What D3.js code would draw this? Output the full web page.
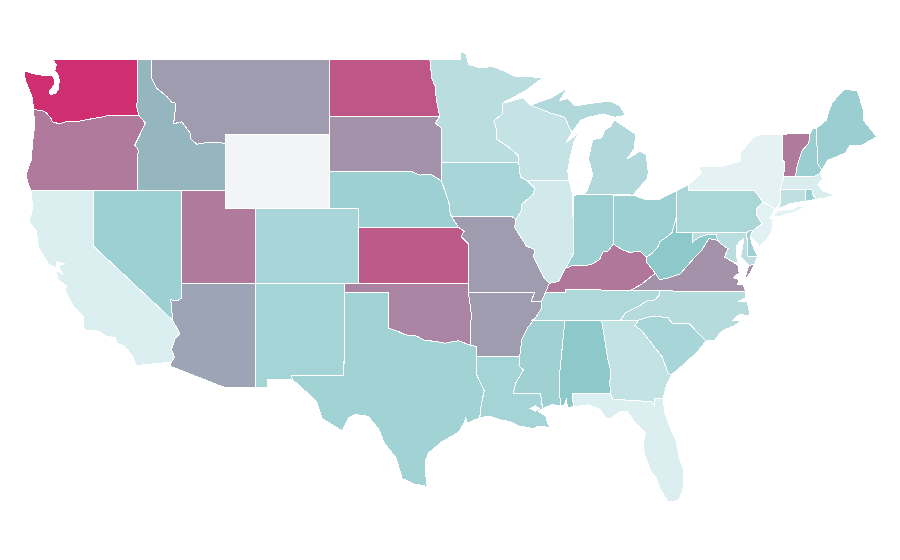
<!DOCTYPE html>
<html>
<head>
<meta charset="utf-8">
<title>States</title>
<script src="https://cdn.jsdelivr.net/npm/d3@7"></script>
<style>
  html, body { margin: 0; background: #fff; }
  .state { stroke: #fff; stroke-width: 1; fill-rule: evenodd; shape-rendering: crispEdges; }
</style>
</head>
<body>
<div class="chart"></div>
<script>
const stateNames = ["Washington","Oregon","California","Nevada","Idaho","Montana","Wyoming","Utah","Arizona","Colorado","New Mexico","North Dakota","South Dakota","Nebraska","Kansas","Oklahoma","Texas","Minnesota","Iowa","Missouri","Arkansas","Louisiana","Wisconsin","Illinois","Michigan","Indiana","Ohio","Kentucky","Tennessee","Mississippi","Alabama","Georgia","Florida","South Carolina","North Carolina","Virginia","West Virginia","Maryland","Delaware","Pennsylvania","New Jersey","New York","Connecticut","Rhode Island","Massachusetts","Vermont","New Hampshire","Maine"];
const stateValues = [99,70,5,33,47,57,null,70,54,28,29,84,61,33,82,66,31,20,28,57,57,29,15,9,24,33.5,33,71,25,32,40,16,5,28,22,61,40,20,32,27,2,1,18,33,6,70,34,34];

const colorStops = [0, 40, 100];
const colorRange = ["#e6f3f5", "#8dc8ca", "#d02c6e"];
const noDataColor = "#f3f4f6";

// state outlines as [lon, lat] rings
const stateOutlines = {
  "Washington": [[[-117.03,49],[-122.76,49],[-122.5,48.7],[-122.6,48.4],[-122.4,48.2],[-122.3,47.9],[-122.35,47.4],[-122.55,47.2],[-122.9,47.1],[-123,47.3],[-122.65,47.6],[-122.6,47.9],[-122.75,48.1],[-123.1,48.15],[-123.7,48.17],[-124.7,48.38],[-124.6,47.9],[-124.3,47.3],[-124.1,46.9],[-124.05,46.3],[-123.5,46.27],[-123.2,46.15],[-122.9,45.9],[-122.75,45.65],[-122.3,45.55],[-121.7,45.7],[-121.2,45.65],[-120.6,45.74],[-119.9,45.85],[-119.3,45.93],[-118.98,46],[-116.92,46],[-117.04,46.4]]],
  "Oregon": [[[-124.05,46.3],[-123.5,46.27],[-123.2,46.15],[-122.9,45.9],[-122.75,45.65],[-122.3,45.55],[-121.7,45.7],[-121.2,45.65],[-120.6,45.74],[-119.9,45.85],[-119.3,45.93],[-118.98,46],[-116.92,46],[-116.48,45.6],[-116.85,44.95],[-117.2,44.4],[-117.03,44.25],[-116.93,44.1],[-117.03,43.83],[-117.03,42],[-124.2,42],[-124.4,42.3],[-124.55,42.85],[-124.2,43.6],[-124.1,44.6],[-123.95,45.5]]],
  "California": [[[-124.2,42],[-120,42],[-120,39],[-114.63,35],[-114.15,34.27],[-114.45,34],[-114.72,33.4],[-114.5,33],[-114.72,32.72],[-117.12,32.53],[-117.3,33],[-117.9,33.6],[-118.4,33.75],[-118.5,34.03],[-119.2,34.15],[-119.6,34.4],[-120.47,34.45],[-120.65,34.6],[-120.65,35.15],[-121.3,35.7],[-121.9,36.6],[-121.8,36.85],[-122.4,37.2],[-122.5,37.7],[-122.1,37.5],[-122.35,37.95],[-121.9,38.05],[-122.5,38.15],[-122.5,37.85],[-123,38],[-123.7,38.9],[-123.85,39.8],[-124.35,40.3],[-124.1,41]]],
  "Nevada": [[[-120,42],[-114.04,42],[-114.04,36.2],[-114.3,36.05],[-114.75,36.1],[-114.63,35],[-120,39]]],
  "Idaho": [[[-117.03,49],[-116.05,49],[-116.05,48],[-115.7,47.45],[-115,47],[-114.7,46.7],[-114.4,46.65],[-114.56,45.56],[-114,45.65],[-113.45,45.05],[-113.4,44.75],[-113,44.45],[-112.3,44.55],[-111.5,44.55],[-111.05,44.48],[-111.05,42],[-117.03,42],[-117.03,43.83],[-116.93,44.1],[-117.03,44.25],[-117.2,44.4],[-116.85,44.95],[-116.48,45.6],[-116.92,46],[-117.04,46.4]]],
  "Montana": [[[-116.05,49],[-104.05,49],[-104.05,45],[-111.05,45],[-111.05,44.48],[-111.5,44.55],[-112.3,44.55],[-113,44.45],[-113.4,44.75],[-113.45,45.05],[-114,45.65],[-114.56,45.56],[-114.4,46.65],[-114.7,46.7],[-115,47],[-115.7,47.45],[-116.05,48]]],
  "Wyoming": [[[-111.05,45],[-104.05,45],[-104.05,41],[-111.05,41]]],
  "Utah": [[[-114.04,42],[-111.05,42],[-111.05,41],[-109.05,41],[-109.05,37],[-114.04,37]]],
  "Arizona": [[[-114.04,37],[-109.05,37],[-109.05,31.33],[-111.07,31.33],[-114.8,32.5],[-114.72,32.72],[-114.5,33],[-114.72,33.4],[-114.45,34],[-114.15,34.27],[-114.63,35],[-114.75,36.1],[-114.3,36.05],[-114.04,36.2]]],
  "Colorado": [[[-109.05,41],[-102.05,41],[-102.04,37],[-109.05,37]]],
  "New Mexico": [[[-109.05,37],[-103,37],[-103.04,32],[-106.62,32],[-106.53,31.78],[-108.2,31.78],[-108.2,31.33],[-109.05,31.33]]],
  "North Dakota": [[[-104.05,49],[-97.23,49],[-97.1,48],[-96.85,47.5],[-96.8,46.9],[-96.56,45.94],[-104.05,45.94]]],
  "South Dakota": [[[-104.05,45.94],[-96.56,45.94],[-96.85,45.6],[-96.45,45.3],[-96.45,43.5],[-96.45,42.5],[-97.2,42.85],[-97.9,42.8],[-98.5,43],[-104.05,43]]],
  "Nebraska": [[[-104.05,43],[-98.5,43],[-97.9,42.8],[-97.2,42.85],[-96.45,42.5],[-96.1,41.7],[-95.9,41.2],[-95.85,40.7],[-95.3,40],[-102.05,40],[-102.05,41],[-104.05,41]]],
  "Kansas": [[[-102.05,40],[-95.3,40],[-94.9,39.8],[-95.1,39.5],[-94.6,39.1],[-94.62,37],[-102.04,37]]],
  "Oklahoma": [[[-103,37],[-94.62,37],[-94.62,36.5],[-94.43,35.4],[-94.48,33.64],[-95.3,33.88],[-96.2,33.75],[-96.9,33.85],[-97.6,33.9],[-98.1,34.13],[-98.9,34.2],[-99.4,34.4],[-100,34.56],[-100,36.5],[-103,36.5]]],
  "Texas": [[[-103,36.5],[-100,36.5],[-100,34.56],[-99.4,34.4],[-98.9,34.2],[-98.1,34.13],[-97.6,33.9],[-96.9,33.85],[-96.2,33.75],[-95.3,33.88],[-94.48,33.64],[-94.04,33.55],[-94.04,32],[-93.8,31.6],[-93.55,31.15],[-93.75,30.4],[-93.85,29.7],[-94.7,29.4],[-94.8,29.7],[-94.95,29.35],[-95.3,28.9],[-96.4,28.4],[-97.3,27.8],[-97.55,27.3],[-97.5,26.6],[-97.4,25.9],[-97.55,26],[-98.3,26.1],[-99.1,26.4],[-99.5,27.5],[-100.3,28.3],[-100.7,29.1],[-101.4,29.77],[-102.3,29.88],[-102.7,29.7],[-103.15,28.98],[-104.5,29.65],[-104.9,30.6],[-106.53,31.78],[-106.62,32],[-103.04,32]]],
  "Minnesota": [[[-97.23,49],[-95.15,49],[-95.15,49.38],[-94.8,49.33],[-94.6,48.72],[-93.8,48.55],[-92.95,48.62],[-92,48.3],[-91.4,48.07],[-90.75,48.1],[-89.6,48],[-90.8,47.3],[-92.1,46.75],[-92.29,46.66],[-92.29,46.1],[-92.9,45.7],[-92.75,45.3],[-92.75,44.75],[-91.9,44.3],[-91.25,43.85],[-91.22,43.5],[-96.45,43.5],[-96.45,45.3],[-96.85,45.6],[-96.56,45.94],[-96.8,46.9],[-96.85,47.5],[-97.1,48]]],
  "Iowa": [[[-96.45,43.5],[-91.22,43.5],[-91.15,43],[-91.1,42.7],[-90.64,42.51],[-90.15,42.1],[-90.2,41.8],[-91.05,41.2],[-91,40.95],[-91.4,40.4],[-91.7,40.6],[-95.75,40.58],[-95.85,40.7],[-95.9,41.2],[-96.1,41.7],[-96.45,42.5]]],
  "Missouri": [[[-95.75,40.58],[-91.7,40.6],[-91.4,40.4],[-91.5,40],[-90.7,39],[-90.15,38.8],[-90.2,38.4],[-89.5,37.3],[-89.15,37],[-89.4,36.5],[-89.7,36],[-90.37,36],[-90.15,36.5],[-94.62,36.5],[-94.62,37],[-94.6,39.1],[-95.1,39.5],[-94.9,39.8],[-95.3,40]]],
  "Arkansas": [[[-94.62,36.5],[-90.15,36.5],[-90.37,36],[-89.7,36],[-89.7,35.6],[-90.1,35.1],[-90.6,34.6],[-91,33.95],[-91.15,33],[-94.04,33.02],[-94.04,33.55],[-94.48,33.64],[-94.43,35.4]]],
  "Louisiana": [[[-94.04,33.02],[-91.15,33],[-91.2,32.5],[-90.9,32.3],[-91.4,31.6],[-91.6,31],[-89.73,31],[-89.6,30.18],[-89.9,30.05],[-89.4,29.8],[-89.2,29.3],[-89,29.15],[-89.9,29.25],[-90.2,29.1],[-91.2,29.25],[-91.8,29.5],[-92.3,29.55],[-93.2,29.78],[-93.85,29.7],[-93.75,30.4],[-93.55,31.15],[-93.8,31.6],[-94.04,32]],[[-90.45,30.2],[-90.1,30.35],[-89.8,30.2],[-90.1,30.05]]],
  "Wisconsin": [[[-92.29,46.66],[-92,46.7],[-90.9,46.95],[-90.4,46.55],[-89.1,46.13],[-88.1,45.9],[-87.8,45.35],[-87.6,45.1],[-88,44.55],[-87.4,44.9],[-87.05,45.28],[-87.5,44.5],[-87.75,43.7],[-87.9,43],[-87.8,42.49],[-90.64,42.51],[-91.1,42.7],[-91.15,43],[-91.22,43.5],[-91.25,43.85],[-91.9,44.3],[-92.75,44.75],[-92.75,45.3],[-92.9,45.7],[-92.29,46.1]]],
  "Illinois": [[[-90.64,42.51],[-87.8,42.49],[-87.55,41.7],[-87.53,39.35],[-87.5,38.6],[-88.05,37.8],[-88.5,37.1],[-89.15,37],[-89.5,37.3],[-90.2,38.4],[-90.15,38.8],[-90.7,39],[-91.5,40],[-91.4,40.4],[-91,40.95],[-91.05,41.2],[-90.2,41.8],[-90.15,42.1]]],
  "Michigan": [[[-86.82,41.76],[-83.45,41.73],[-83.15,42.05],[-82.5,42.6],[-82.45,43],[-82.6,43.9],[-83,44.07],[-83.9,43.65],[-83.4,44.2],[-83.3,45],[-84.75,45.75],[-85,45.4],[-85.4,45.2],[-85.6,44.8],[-86.2,44.7],[-86.5,43.7],[-86.2,42.8],[-86.6,41.95]],[[-90.4,46.55],[-89.1,46.13],[-88.1,45.9],[-87.8,45.35],[-87.6,45.1],[-87,45.75],[-86.5,45.9],[-85.5,46.08],[-84.75,45.9],[-84,46],[-84.35,46.5],[-85,46.77],[-86.1,46.67],[-87.4,46.5],[-87.9,46.9],[-88.45,46.8],[-87.9,47.47],[-89,46.95]]],
  "Indiana": [[[-87.53,41.7],[-87.2,41.76],[-84.8,41.76],[-84.82,39.1],[-85.2,38.7],[-85.5,38.7],[-85.75,38.27],[-86.3,38],[-86.8,37.95],[-87.6,37.95],[-88.05,37.8],[-87.5,38.6],[-87.53,39.35]]],
  "Ohio": [[[-84.82,39.1],[-84.8,41.7],[-83.45,41.73],[-82.7,41.5],[-81.7,41.5],[-80.52,41.98],[-80.52,40.64],[-80.85,39.7],[-81.7,39.2],[-81.75,39],[-82.2,38.6],[-82.6,38.4],[-83,38.73],[-83.7,38.65],[-84.2,38.8]]],
  "Kentucky": [[[-89.4,36.5],[-88.07,36.5],[-88.07,36.68],[-83.68,36.6],[-82.9,36.95],[-81.97,37.54],[-82.6,38.17],[-82.6,38.4],[-83,38.73],[-83.7,38.65],[-84.2,38.8],[-84.82,39.1],[-85.2,38.7],[-85.5,38.7],[-85.75,38.27],[-86.3,38],[-86.8,37.95],[-87.6,37.95],[-88.05,37.8],[-88.5,37.1],[-89.15,37]]],
  "Tennessee": [[[-90.3,35],[-88.2,35],[-85.6,34.98],[-84.32,35],[-84,35.4],[-83.1,35.75],[-82.6,36.03],[-82,36.1],[-81.7,36.35],[-81.68,36.59],[-83.68,36.6],[-88.07,36.68],[-88.07,36.5],[-89.4,36.5],[-89.7,36],[-89.7,35.6],[-90.1,35.1]]],
  "Mississippi": [[[-90.3,35],[-88.2,35],[-88.1,34.9],[-88.47,31.9],[-88.4,30.37],[-89,30.4],[-89.6,30.18],[-89.73,31],[-91.6,31],[-91.4,31.6],[-90.9,32.3],[-91.2,32.5],[-91.15,33],[-91,33.95],[-90.6,34.6],[-90.1,35.1]]],
  "Alabama": [[[-88.2,35],[-85.6,34.98],[-85.18,32.87],[-85,32.3],[-85.05,31.55],[-85,31],[-87.6,31],[-87.5,30.3],[-87.9,30.25],[-88,30.7],[-88.15,30.35],[-88.4,30.37],[-88.47,31.9],[-88.1,34.9]]],
  "Georgia": [[[-85.6,34.98],[-83.1,35],[-83.35,34.7],[-82.9,34.45],[-82,33.5],[-81.5,33],[-81.1,32.1],[-80.85,32.05],[-81.2,31.5],[-81.45,30.72],[-82.05,30.75],[-82.05,30.37],[-82.2,30.57],[-84.85,30.7],[-85,31],[-85.05,31.55],[-85,32.3],[-85.18,32.87]]],
  "Florida": [[[-87.6,31],[-85,31],[-84.85,30.7],[-82.2,30.57],[-82.05,30.37],[-82.05,30.75],[-81.45,30.72],[-81.3,29.9],[-80.9,29],[-80.55,28.45],[-80.35,27.5],[-80.05,26.9],[-80.1,25.8],[-80.4,25.2],[-81.1,25.12],[-81.7,25.9],[-81.9,26.45],[-82.25,26.75],[-82.7,27.7],[-82.8,28.2],[-82.65,28.9],[-83.4,29.5],[-83.9,30.05],[-84.3,30.05],[-85,29.65],[-85.35,29.7],[-85.7,30.15],[-86.5,30.4],[-87.5,30.3]]],
  "South Carolina": [[[-83.1,35],[-82.3,35.2],[-81.05,35.15],[-81.05,35.05],[-80.8,34.82],[-79.67,34.8],[-78.55,33.86],[-79.1,33.3],[-79.9,32.7],[-80.85,32.05],[-81.1,32.1],[-81.5,33],[-82,33.5],[-82.9,34.45],[-83.35,34.7]]],
  "North Carolina": [[[-84.32,35],[-83.1,35],[-82.3,35.2],[-81.05,35.15],[-81.05,35.05],[-80.8,34.82],[-79.67,34.8],[-78.55,33.86],[-77.95,33.9],[-77.5,34.4],[-76.6,34.7],[-76.1,35],[-76.7,35],[-76.3,35.3],[-75.55,35.25],[-75.75,36],[-76.4,36],[-75.87,36.2],[-75.87,36.55],[-81.68,36.59],[-81.7,36.35],[-82,36.1],[-82.6,36.03],[-83.1,35.75],[-84,35.4]]],
  "Virginia": [[[-83.68,36.6],[-75.87,36.55],[-76,36.9],[-76.4,36.95],[-76.3,37.2],[-76.7,37.3],[-76.3,37.55],[-76.35,37.95],[-76.95,38.25],[-77.3,38.4],[-77.05,38.85],[-77.5,39.1],[-77.75,39.3],[-78.35,39.4],[-78.85,38.75],[-79.3,38.4],[-80.3,37.5],[-81.25,37.25],[-81.68,37.2],[-81.97,37.54],[-82.9,36.95]],[[-75.95,37.15],[-75.65,37.95],[-75.25,38.03],[-75.6,37.5]]],
  "West Virginia": [[[-81.97,37.54],[-81.68,37.2],[-81.25,37.25],[-80.3,37.5],[-79.3,38.4],[-78.85,38.75],[-78.35,39.4],[-77.75,39.3],[-77.85,39.6],[-78.4,39.62],[-79,39.47],[-79.48,39.2],[-79.48,39.72],[-80.52,39.72],[-80.52,40.64],[-80.85,39.7],[-81.7,39.2],[-81.75,39],[-82.2,38.6],[-82.6,38.4],[-82.6,38.17]]],
  "Maryland": [[[-79.48,39.72],[-75.79,39.72],[-75.7,38.46],[-75.05,38.45],[-75.25,38.03],[-75.65,37.95],[-75.9,38.2],[-76.2,38.4],[-76.05,39],[-76,39.4],[-76.3,39.2],[-76.5,39],[-76.45,38.4],[-76.35,38.05],[-76.95,38.25],[-77.3,38.4],[-77.05,38.85],[-77.5,39.1],[-77.75,39.3],[-77.85,39.6],[-78.4,39.62],[-79,39.47],[-79.48,39.2]]],
  "Delaware": [[[-75.79,39.72],[-75.6,39.83],[-75.4,39.8],[-75.55,39.45],[-75.4,39.05],[-75.05,38.45],[-75.7,38.46]]],
  "Pennsylvania": [[[-80.52,41.98],[-79.76,42.27],[-79.76,42],[-75.35,42],[-75.05,41.75],[-74.7,41.36],[-75.1,41],[-75.15,40.7],[-74.75,40.2],[-75.4,39.8],[-75.6,39.83],[-75.79,39.72],[-80.52,39.72]]],
  "New Jersey": [[[-74.7,41.36],[-73.9,41],[-74.05,40.65],[-74.25,40.5],[-74,40.4],[-74.1,39.75],[-74.4,39.4],[-74.9,38.95],[-75.15,39.2],[-75.55,39.5],[-75.4,39.8],[-74.75,40.2],[-75.15,40.7],[-75.1,41]]],
  "New York": [[[-79.76,42.27],[-78.85,42.9],[-79.05,43.27],[-77.5,43.25],[-76.2,43.55],[-76.2,44],[-75.3,44.85],[-74.7,45],[-73.35,45],[-73.35,44.2],[-73.4,43.6],[-73.25,43.55],[-73.27,42.75],[-73.5,42.05],[-73.5,41.3],[-73.73,41.1],[-73.9,40.8],[-73.9,41],[-74.7,41.36],[-75.05,41.75],[-75.35,42],[-79.76,42]],[[-74,40.6],[-73.7,40.9],[-72.6,40.98],[-72.3,41.15],[-71.9,41.05],[-72.6,40.8],[-73.5,40.6]]],
  "Connecticut": [[[-73.5,42.05],[-71.8,42.02],[-71.8,41.42],[-72.9,41.25],[-73.65,41],[-73.5,41.3]]],
  "Rhode Island": [[[-71.8,42.02],[-71.38,42.02],[-71.3,41.75],[-71.13,41.5],[-71.8,41.4]]],
  "Massachusetts": [[[-73.5,42.05],[-73.27,42.75],[-71.3,42.7],[-70.85,42.87],[-70.6,42.65],[-71,42.3],[-70.6,41.95],[-70.05,41.78],[-70.2,42.05],[-69.95,41.7],[-70.6,41.55],[-71.13,41.5],[-71.3,41.75],[-71.38,42.02],[-71.8,42.02]]],
  "Vermont": [[[-73.35,45],[-71.5,45.01],[-71.6,44.5],[-72.05,44.1],[-72.3,43.5],[-72.45,43],[-72.46,42.73],[-73.27,42.75],[-73.25,43.55],[-73.4,43.6],[-73.35,44.2]]],
  "New Hampshire": [[[-71.5,45.01],[-71.3,45.3],[-71.08,45.3],[-70.98,43.4],[-70.7,43.07],[-70.85,42.87],[-71.3,42.7],[-72.46,42.73],[-72.45,43],[-72.3,43.5],[-72.05,44.1],[-71.6,44.5]]],
  "Maine": [[[-71.08,45.3],[-70.4,45.75],[-70.25,46.2],[-70,46.7],[-69.23,47.35],[-69,47.4],[-68.3,47.3],[-67.9,46.3],[-67.85,45.7],[-67.45,45.3],[-67,44.85],[-68,44.4],[-68.8,44.4],[-69.1,44],[-69.8,43.75],[-70.3,43.6],[-70.7,43.07],[-70.98,43.4]]]
};

const width = 900, height = 560;

const lonScale = d3.scaleLinear().domain([-104.05, -67]).range([329, 876.6]);
const latScale = d3.scaleLinear().domain([25.12, 37, 49]).range([502, 283.3, 59.4]);

const color = d3.scaleLinear().domain(colorStops).range(colorRange);

const path = d3.geoPath(d3.geoTransform({
  point(lon, lat) { this.stream.point(lonScale(lon), latScale(lat)); }
}));

// geoPath expects closed rings
const closeRing = ring => ring.concat([ring[0]]);

const features = stateNames.map((name, i) => ({
  type: "Feature",
  properties: {name, value: stateValues[i]},
  geometry: {type: "Polygon", coordinates: stateOutlines[name].map(closeRing)}
}));

const svg = d3.select(".chart").append("svg")
    .attr("width", width)
    .attr("height", height)
    .style("display", "block");

svg.selectAll("path.state")
    .data(features)
  .enter().append("path")
    .attr("class", "state")
    .attr("d", path)
    .attr("fill", d => d.properties.value === null ? noDataColor : color(d.properties.value));
</script>
</body>
</html>
